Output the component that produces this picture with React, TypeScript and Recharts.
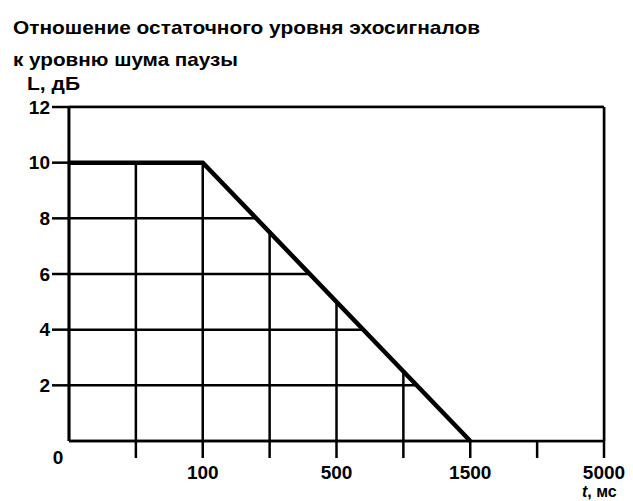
import React from 'react';
import { ComposedChart, Line, Area, XAxis, YAxis, CartesianGrid, ReferenceLine } from 'recharts';

// x positions are evenly spaced slots; only every other slot carries a label
const xTicks = [0, 1, 2, 3, 4, 5, 6, 7, 8];
const xTickLabels = ['0', '', '100', '', '500', '', '1500', '', '5000'];
const yTicks = [2, 4, 6, 8, 10, 12];

// curve: L, dB over t slot
const curveX = [0, 2, 6, 8];
const curveLevel: (number | null)[] = [10, 10, 0, null];

const Y_TOP = 12;
const FONT = '"Liberation Sans", Arial, sans-serif';

// grid is only visible under the curve -> white mask from curve to top
const tableData = curveX.map((x, i) => ({
  x,
  level: curveLevel[i],
  mask: [curveLevel[i] ?? 0, Y_TOP],
}));

const XTick = (props: any) => {
  const { x, y, payload } = props;
  const idx = xTicks.indexOf(payload.value);
  const label = xTickLabels[idx];
  const isLast = idx === xTicks.length - 1;
  return (
    <g>
      {idx > 0 && <line x1={x} y1={y} x2={x} y2={y + 17} stroke="#000" strokeWidth={2.5} />}
      {label && (
        <text
          x={idx === 0 ? x - 11 : x}
          y={idx === 0 ? y + 23 : y + 38}
          textAnchor="middle"
          fontSize={19}
          fontWeight="bold"
          fontFamily={FONT}
          fill="#000"
        >
          {label}
        </text>
      )}
      {isLast && (
        <text x={x - 22} y={y + 56} fontSize={16} fontWeight="bold" fontFamily={FONT} fill="#000">
          <tspan fontStyle="italic">t</tspan>, мс
        </text>
      )}
    </g>
  );
};

const App: React.FC = () => {
  return (
    <div style={{ position: 'absolute', left: 0, top: 0, width: 633, height: 501, background: '#fff' }}>
      <svg width={633} height={100} style={{ position: 'absolute', left: 0, top: 0 }}>
        <g fontFamily={FONT} fontWeight="bold" fontSize={19} fill="#000">
          <text x={13} y={34} textLength={467} lengthAdjust="spacingAndGlyphs">
            Отношение остаточного уровня эхосигналов
          </text>
          <text x={13} y={66} textLength={225} lengthAdjust="spacingAndGlyphs">
            к уровню шума паузы
          </text>
          <text x={27} y={90} textLength={53} lengthAdjust="spacingAndGlyphs">
            L, дБ
          </text>
        </g>
      </svg>
      <ComposedChart
        width={633}
        height={501}
        data={tableData}
        margin={{ top: 107, right: 29, bottom: 0, left: 0 }}
        style={{ position: 'absolute', left: 0, top: 0 }}
      >
        <CartesianGrid stroke="#000" strokeWidth={2.5} />
        <XAxis
          type="number"
          dataKey="x"
          domain={[0, 8]}
          ticks={xTicks}
          interval={0}
          height={60}
          tickLine={false}
          tickSize={0}
          tickMargin={0}
          axisLine={{ stroke: '#000', strokeWidth: 2.5 }}
          tick={<XTick />}
        />
        <YAxis
          type="number"
          domain={[0, Y_TOP]}
          ticks={yTicks}
          interval={0}
          width={69}
          tickSize={17}
          tickMargin={2}
          tickLine={{ stroke: '#000', strokeWidth: 2.5 }}
          axisLine={{ stroke: '#000', strokeWidth: 2.5 }}
          tick={{ fill: '#000', fontSize: 19, fontWeight: 'bold', fontFamily: FONT }}
        />
        <Area
          type="linear"
          dataKey="mask"
          stroke="none"
          fill="#fff"
          fillOpacity={1}
          dot={false}
          activeDot={false}
          isAnimationActive={false}
        />
        <ReferenceLine y={Y_TOP} stroke="#000" strokeWidth={2.5} />
        <ReferenceLine x={8} stroke="#000" strokeWidth={2.5} />
        <ReferenceLine x={0} stroke="#000" strokeWidth={2.5} />
        <Line
          type="linear"
          dataKey="level"
          stroke="#000"
          strokeWidth={4.5}
          dot={false}
          activeDot={false}
          isAnimationActive={false}
        />
      </ComposedChart>
    </div>
  );
};

export default App;
